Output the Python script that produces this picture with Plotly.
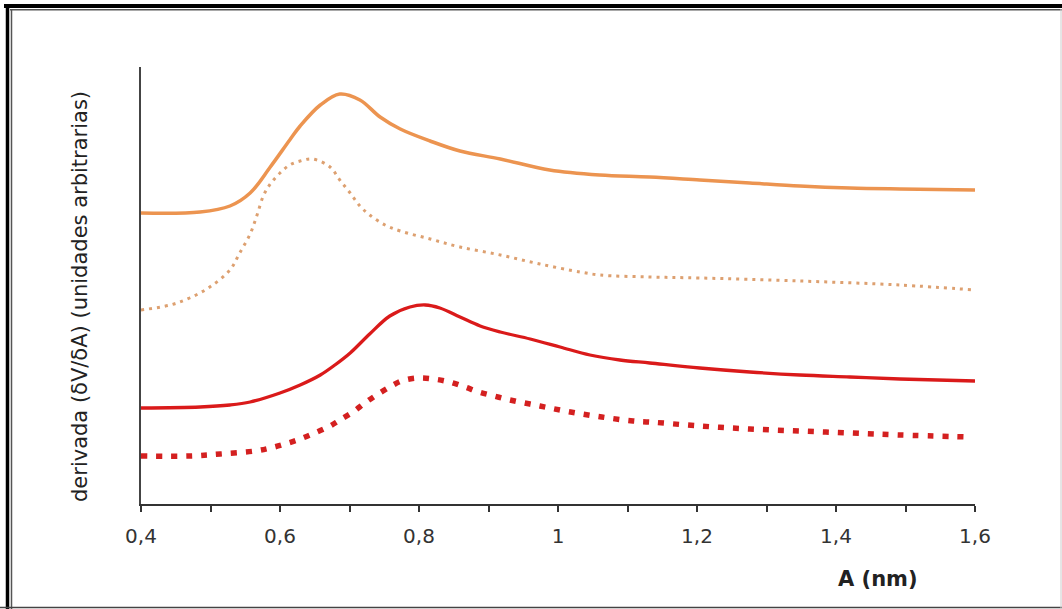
import plotly.graph_objects as go

# ---- data (arbitrary units) ----
x_orange_solid = [0.400, 0.485, 0.528, 0.557, 0.586, 0.614, 0.629, 0.658, 0.686, 0.715, 0.744, 0.773,
                  0.816, 0.859, 0.917, 0.988, 1.060, 1.132, 1.204, 1.276, 1.348, 1.420, 1.492, 1.600]
y_orange_solid = [29.1, 29.2, 29.8, 31.1, 33.7, 36.4, 37.8, 39.9, 41.0, 40.4, 38.7, 37.5,
                  36.3, 35.3, 34.5, 33.4, 32.9, 32.7, 32.4, 32.1, 31.8, 31.6, 31.5, 31.4]

x_orange_dot = [0.400, 0.442, 0.470, 0.499, 0.528, 0.542, 0.557, 0.567, 0.576, 0.586, 0.600, 0.614,
                0.629, 0.647, 0.672, 0.686, 0.701, 0.715, 0.729, 0.751, 0.773, 0.816, 0.859, 0.917,
                0.974, 1.032, 1.060, 1.132, 1.204, 1.348, 1.492, 1.600]
y_orange_dot = [19.4, 19.9, 20.6, 21.7, 23.4, 25.1, 27.0, 28.9, 30.8, 32.0, 33.1, 33.9,
                34.3, 34.5, 33.7, 32.4, 31.1, 29.8, 28.9, 27.9, 27.3, 26.5, 25.7, 24.9,
                24.0, 23.2, 22.9, 22.7, 22.6, 22.3, 21.9, 21.4]

x_red_solid = [0.400, 0.485, 0.528, 0.557, 0.600, 0.629, 0.658, 0.679, 0.701, 0.729, 0.758, 0.787,
               0.809, 0.830, 0.859, 0.888, 0.917, 0.960, 1.003, 1.046, 1.089, 1.132, 1.204, 1.276,
               1.348, 1.420, 1.492, 1.600]
y_red_solid = [9.6, 9.7, 9.9, 10.2, 11.1, 11.9, 12.9, 13.9, 15.1, 17.0, 18.8, 19.7,
               19.9, 19.6, 18.7, 17.8, 17.2, 16.5, 15.7, 14.9, 14.4, 14.1, 13.6, 13.2,
               12.9, 12.7, 12.5, 12.3]

x_red_dot = [0.400, 0.470, 0.514, 0.564, 0.586, 0.607, 0.629, 0.650, 0.672, 0.686, 0.705, 0.722,
             0.739, 0.758, 0.775, 0.798, 0.821, 0.844, 0.866, 0.886, 0.908, 0.931, 0.974, 1.018,
             1.063, 1.108, 1.132, 1.204, 1.276, 1.348, 1.420, 1.492, 1.591]
y_red_dot = [4.8, 4.8, 5.0, 5.3, 5.6, 6.0, 6.5, 7.1, 7.8, 8.4, 9.2, 10.1,
             10.9, 11.7, 12.3, 12.6, 12.5, 12.2, 11.7, 11.2, 10.8, 10.4, 9.8, 9.2,
             8.7, 8.3, 8.2, 7.8, 7.5, 7.3, 7.1, 6.9, 6.7]

tick_vals = [0.4, 0.6, 0.8, 1.0, 1.2, 1.4, 1.6]
tick_text = ["0,4", "0,6", "0,8", "1", "1,2", "1,4", "1,6"]

x_title = "A (nm)"
y_title = "derivada (δV/δA) (unidades arbitrarias)"

# ---- figure ----
W, H = 1062, 609
L, R, T, B = 141, 975, 67, 504


def px(x):
    return (x - L) / (R - L)


def py(y):
    return (B - y) / (B - T)


fig = go.Figure()
fig.add_trace(go.Scatter(x=x_orange_solid, y=y_orange_solid, mode="lines",
                         line=dict(color="#EC9450", width=3.5, shape="spline", smoothing=1.0)))
fig.add_trace(go.Scatter(x=x_orange_dot, y=y_orange_dot, mode="lines",
                         line=dict(color="#DDA070", width=3, dash="3px,5px", shape="spline", smoothing=1.0)))
fig.add_trace(go.Scatter(x=x_red_solid, y=y_red_solid, mode="lines",
                         line=dict(color="#DA1A1A", width=3.3, shape="spline", smoothing=1.0)))
fig.add_trace(go.Scatter(x=x_red_dot, y=y_red_dot, mode="lines",
                         line=dict(color="#D42020", width=5.5, dash="6px,9px", shape="spline", smoothing=1.0)))

font_family = "DejaVu Sans"

fig.update_layout(
    width=W, height=H,
    margin=dict(l=L, r=W - R, t=T, b=H - B),
    paper_bgcolor="white", plot_bgcolor="white",
    showlegend=False,
    font=dict(family=font_family, color="#222"),
    xaxis=dict(range=[0.4, 1.6], tickvals=tick_vals, ticktext=tick_text,
               ticks="outside", ticklen=6, tickwidth=1.5, tickcolor="#333",
               showline=True, linecolor="#333", linewidth=1.5,
               showgrid=False, zeroline=False,
               tickfont=dict(size=20, color="#333", family=font_family),
               ticklabelstandoff=7,
               minor=dict(dtick=0.1, tick0=0.4, ticks="outside", ticklen=6, tickwidth=1.5, tickcolor="#333")),
    yaxis=dict(range=[0, 43.7], showline=True, linecolor="#444", linewidth=1.5,
               showticklabels=False, ticks="", showgrid=False, zeroline=False),
)

fig.add_annotation(text="<b>" + x_title + "</b>", xref="paper", yref="paper",
                   x=px(878), y=py(579), xanchor="center", yanchor="middle",
                   showarrow=False, font=dict(size=21, color="#222", family=font_family))
fig.add_annotation(text=y_title, xref="paper", yref="paper", textangle=-90,
                   x=px(80), y=py(297), xanchor="center", yanchor="middle",
                   showarrow=False, font=dict(size=21, color="#222", family=font_family))

# decorative double frame
def hline(y, x0, x1, color, w):
    fig.add_shape(type="line", xref="paper", yref="paper", x0=px(x0), x1=px(x1), y0=py(y), y1=py(y),
                  line=dict(color=color, width=w), layer="above")


def vline(x, y0, y1, color, w):
    fig.add_shape(type="line", xref="paper", yref="paper", x0=px(x), x1=px(x), y0=py(y0), y1=py(y1),
                  line=dict(color=color, width=w), layer="above")


hline(6, 4, W, "black", 4)
vline(7.5, 4, H, "black", 3.5)
hline(9.8, 10, W, "#555", 1.5)
vline(11.5, 9, H, "#555", 1.5)
hline(607.5, 0, W, "#444", 1.5)
vline(1061, 9, H, "#ccc", 1)

fig.write_html("out.html")
